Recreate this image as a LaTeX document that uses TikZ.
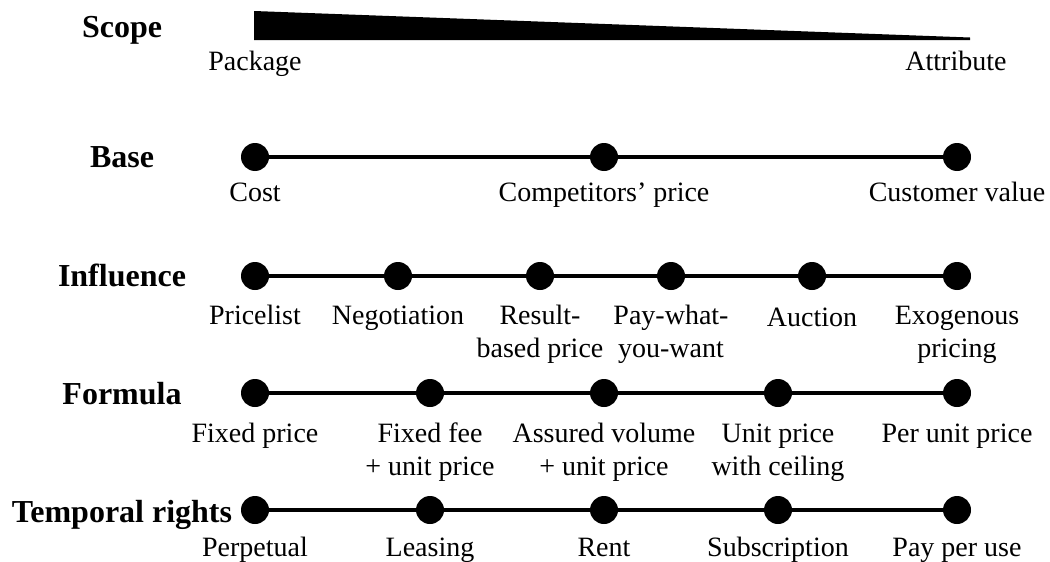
\documentclass[tikz,border=0pt]{standalone}
\usepackage{fontspec}
\setmainfont{Liberation Serif}
\begin{document}
\begin{tikzpicture}[x=1pt,y=-1pt,
  dot/.style={circle,fill=black,inner sep=0pt,minimum size=28pt},
  bar/.style={line width=4.2pt},
  cat/.style={font=\fontsize{32}{34}\selectfont\bfseries,anchor=base,inner sep=0pt},
  lbl/.style={font=\fontsize{28}{33}\selectfont,anchor=base,align=center,inner sep=0pt}]
\useasboundingbox (0,0) rectangle (1050,562);

% Scope: tapering wedge from package to attribute
\node[cat] (scope) at (122,37) {Scope};
\coordinate (wl) at (254,11);
\coordinate (wr) at (970,37.5);
\fill (wl) -- (wr) -- (970,40) -- (254,40) -- cycle;
\node[lbl] (package) at (255,70) {Package};
\node[lbl] (attribute) at (956,70) {Attribute};

% Base
\node[cat] (base) at (122,167) {Base};
\node[dot] (b1) at (255,157) {};
\node[dot] (b2) at (604,157) {};
\node[dot] (b3) at (957,157) {};
\draw[bar] (b1) -- (b2) -- (b3);
\node[lbl] at (255,201) {Cost};
\node[lbl] at (604,201) {Competitors’ price};
\node[lbl] at (957,201) {Customer value};

% Influence (two-line labels are placed by their last baseline)
\node[cat] (influence) at (122,286) {Influence};
\node[dot] (i1) at (255,276) {};
\node[dot] (i2) at (398,276) {};
\node[dot] (i3) at (540,276) {};
\node[dot] (i4) at (671,276) {};
\node[dot] (i5) at (812,276) {};
\node[dot] (i6) at (957,276) {};
\draw[bar] (i1) -- (i2) -- (i3) -- (i4) -- (i5) -- (i6);
\node[lbl] at (255,324) {Pricelist};
\node[lbl] at (398,324) {Negotiation};
\node[lbl] at (540,357) {Result-\\based price};
\node[lbl] at (671,357) {Pay-what-\\you-want};
\node[lbl] at (812,326) {Auction};
\node[lbl] at (957,357) {Exogenous\\pricing};

% Formula
\node[cat] (formula) at (122,404) {Formula};
\node[dot] (f1) at (255,393) {};
\node[dot] (f2) at (430,393) {};
\node[dot] (f3) at (604,393) {};
\node[dot] (f4) at (778,393) {};
\node[dot] (f5) at (957,393) {};
\draw[bar] (f1) -- (f2) -- (f3) -- (f4) -- (f5);
\node[lbl] at (255,442) {Fixed price};
\node[lbl] at (430,475) {Fixed fee\\+ unit price};
\node[lbl] at (604,475) {Assured volume\\+ unit price};
\node[lbl] at (778,475) {Unit price\\with ceiling};
\node[lbl] at (957,442) {Per unit price};

% Temporal rights
\node[cat] (temporal) at (122,522) {Temporal rights};
\node[dot] (t1) at (255,510) {};
\node[dot] (t2) at (430,510) {};
\node[dot] (t3) at (604,510) {};
\node[dot] (t4) at (778,510) {};
\node[dot] (t5) at (957,510) {};
\draw[bar] (t1) -- (t2) -- (t3) -- (t4) -- (t5);
\node[lbl] at (255,556) {Perpetual};
\node[lbl] at (430,556) {Leasing};
\node[lbl] at (604,556) {Rent};
\node[lbl] at (778,556) {Subscription};
\node[lbl] at (957,556) {Pay per use};
\end{tikzpicture}
\end{document}
